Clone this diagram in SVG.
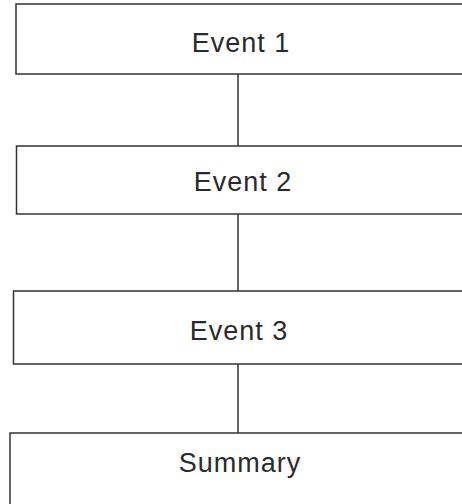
<svg xmlns="http://www.w3.org/2000/svg" width="462" height="504" viewBox="0 0 462 504">
  <style>
    .box { fill: #ffffff; stroke: #333333; stroke-width: 1.5; }
    .lbl { font-family: "Liberation Sans", Arial, sans-serif; font-size: 27px; fill: #2a2a2a; text-anchor: middle; letter-spacing: 1px; }
    .conn { stroke: #333333; stroke-width: 1.5; fill: none; }
  </style>
  <rect width="462" height="504" fill="#ffffff"/>
  <g id="connectors">
    <line class="conn" x1="238" y1="74" x2="238" y2="146"/>
    <line class="conn" x1="238" y1="214" x2="238" y2="291"/>
    <line class="conn" x1="238" y1="364" x2="238" y2="433"/>
  </g>
  <g id="event1">
    <rect class="box" x="16" y="4" width="460" height="70"/>
    <text class="lbl" x="241" y="52">Event 1</text>
  </g>
  <g id="event2">
    <rect class="box" x="16.5" y="146" width="460" height="68"/>
    <text class="lbl" x="243" y="191">Event 2</text>
  </g>
  <g id="event3">
    <rect class="box" x="13.5" y="291" width="460" height="73"/>
    <text class="lbl" x="239" y="340">Event 3</text>
  </g>
  <g id="summary">
    <rect class="box" x="10" y="433" width="470" height="90"/>
    <text class="lbl" x="240" y="472">Summary</text>
  </g>
</svg>
